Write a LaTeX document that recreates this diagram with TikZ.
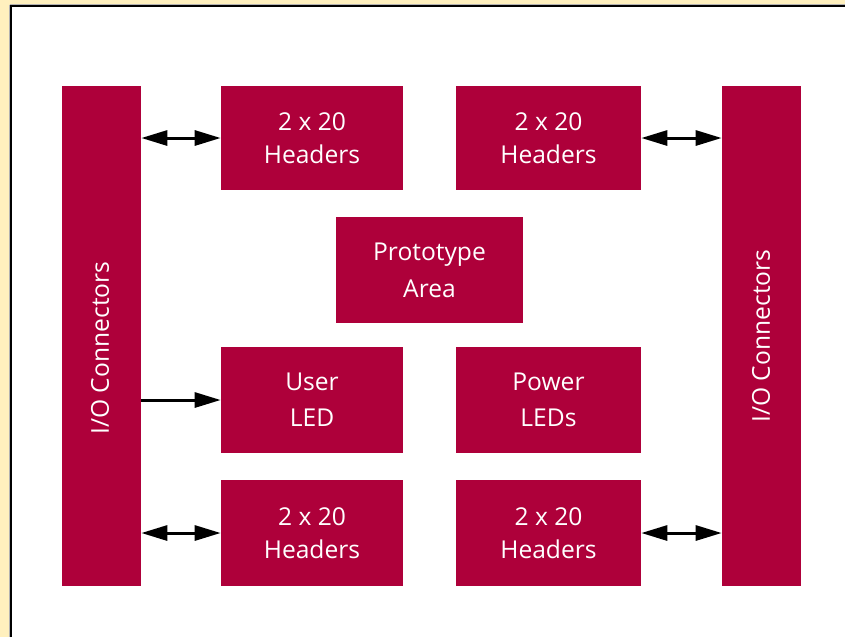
\documentclass[tikz,border=0pt]{standalone}
\usepackage{fontspec}
\setmainfont{Open Sans}
\usetikzlibrary{arrows.meta}

\definecolor{boxred}{RGB}{174,0,58}
\definecolor{paper}{RGB}{255,240,190}

\tikzset{
	block/.style={fill=boxred, draw=none, text=white, align=center, inner sep=0pt,
		font=\fontsize{14}{18.5}\selectfont},
	bar/.style={block, rotate=90, minimum width=10cm, minimum height=1.58cm},
	vlabel/.style={text=white, rotate=90, inner sep=0pt, font=\fontsize{14}{18.5}\selectfont},
	link/.style={line width=1.7pt}
}

\begin{document}
\begin{tikzpicture}[x=0.02cm, y=-0.02cm, >={Triangle[length=0.52cm, width=0.3cm]}]
		% page and frame
		\useasboundingbox (0,0) rectangle (845,637);
		\fill[paper] (0,0) rectangle (845,637);
		\draw[gray!60, line width=0.6pt] (9.5,4.5) -- (9.5,637);
		\draw[gray!60, line width=0.6pt] (9.5,4.5) -- (845,4.5);
		\fill[white] (10.5,5.5) rectangle (845,637);
		\draw[black, line width=1.2pt] (11,637) -- (11,6) -- (845,6);

		% I/O connector bars
		\node[bar] (ioL) at (101.5,336) {};
		\node[vlabel] (ioLtext) at (100,348) {I/O Connectors};
		\node[bar] (ioR) at (761.5,336) {};
		\node[vlabel] (ioRtext) at (761,336) {I/O Connectors};

		% headers and LEDs
		\node[block, minimum width=3.64cm, minimum height=2.08cm] (hdrTL) at (312,138) {2 x 20\\Headers};
		\node[block, minimum width=3.7cm, minimum height=2.08cm] (hdrTR) at (548.5,138) {2 x 20\\Headers};
		\node[block, minimum width=3.74cm, minimum height=2.12cm, font=\fontsize{14}{21}\selectfont] (proto) at (429.5,270) {Prototype\\Area};
		\node[block, minimum width=3.64cm, minimum height=2.12cm, font=\fontsize{14}{20.5}\selectfont] (userled) at (312,400) {User\\LED};
		\node[block, minimum width=3.7cm, minimum height=2.12cm, font=\fontsize{14}{20.5}\selectfont] (powerled) at (548.5,400) {Power\\LEDs};
		\node[block, minimum width=3.64cm, minimum height=2.12cm] (hdrBL) at (312,533) {2 x 20\\Headers};
		\node[block, minimum width=3.7cm, minimum height=2.12cm] (hdrBR) at (548.5,533) {2 x 20\\Headers};

		% links
		\draw[link, <->] (ioL.south |- hdrTL.west) -- (hdrTL.west);
		\draw[link, ->] (ioL.south |- userled.west) -- (userled.west);
		\draw[link, <->] (ioL.south |- hdrBL.west) -- (hdrBL.west);
		\draw[link, <->] (hdrTR.east) -- (ioR.north |- hdrTR.east);
		\draw[link, <->] (hdrBR.east) -- (ioR.north |- hdrBR.east);
	\end{tikzpicture}
\end{document}
